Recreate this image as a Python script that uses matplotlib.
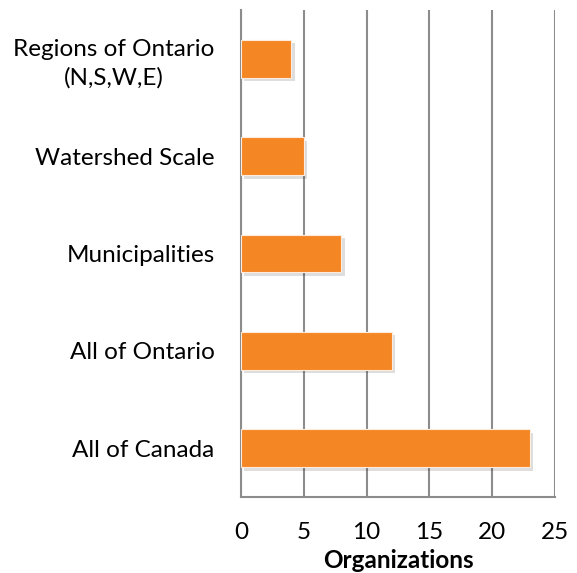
import matplotlib
matplotlib.use("Agg")
import matplotlib.pyplot as plt
import matplotlib.patheffects as pe

categories = ["Regions of Ontario\n(N,S,W,E)", "Watershed Scale", "Municipalities",
              "All of Ontario", "All of Canada"]
values = [4, 5, 8, 12, 23]
xticks = [0, 5, 10, 15, 20, 25]

plt.rcParams['font.family'] = ['Lato', 'DejaVu Sans']

fig = plt.figure(figsize=(5.77, 5.73), dpi=100)
ax = fig.add_axes([241/577, 1-497/573, 314/577, 487/573])

ypos = list(range(len(categories)))
bars = ax.barh(ypos, values, height=0.39, color="#F58624", edgecolor="#FDEBDC",
               linewidth=0.8, zorder=3)
for b in bars:
    b.set_path_effects([pe.SimplePatchShadow(offset=(2.5, -2.5), shadow_rgbFace="#000000", alpha=0.13),
                        pe.Normal()])

ax.set_xlim(0, 25)
ax.set_ylim(len(categories)-0.5, -0.5)
ax.set_xticks(xticks)
ax.set_xticklabels([str(t) for t in xticks], fontsize=17.5)
ax.set_yticks(ypos)
ax.set_yticklabels(categories, fontsize=17.5, multialignment="center", linespacing=1.4)
ax.tick_params(axis="both", length=0)
ax.tick_params(axis="y", pad=19)
ax.tick_params(axis="x", pad=18)
ax.xaxis.grid(True, color="#8C8C8C", linewidth=1.5, zorder=0)
ax.set_axisbelow(True)
for s in ["top", "right"]:
    ax.spines[s].set_visible(False)
for s in ["left", "bottom"]:
    ax.spines[s].set_color("#8C8C8C")
    ax.spines[s].set_linewidth(1.5)
ax.set_xlabel("Organizations", fontsize=17.5, fontweight="bold", labelpad=4)

fig.savefig("out.png", dpi=100)
